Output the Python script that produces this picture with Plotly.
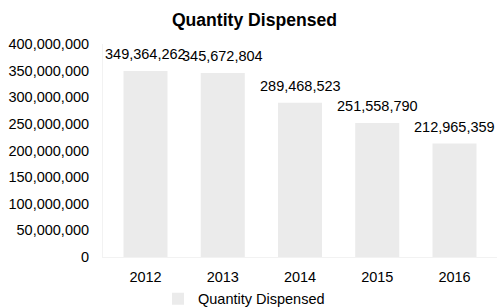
import plotly.graph_objects as go

years = ["2012", "2013", "2014", "2015", "2016"]
quantity = [349364262, 345672804, 289468523, 251558790, 212965359]
series_name = "Quantity Dispensed"
title_text = "Quantity Dispensed"

BAR_COLOR = "#ebebeb"
FONT = "Liberation Sans, Arial, sans-serif"
FS = 14.5

fig = go.Figure()
fig.add_trace(go.Bar(
    x=years, y=quantity, name=series_name,
    marker=dict(color=BAR_COLOR, line=dict(width=0)),
))

# category axis: annotation x uses the category serial number
for i, v in enumerate(quantity):
    fig.add_annotation(
        x=i, y=v, text=f"{v:,}", showarrow=False,
        yanchor="bottom", yshift=7,
        font=dict(family=FONT, size=FS, color="#000000"),
    )

fig.update_layout(
    width=499, height=307,
    margin=dict(l=103, r=2, t=44, b=50, autoexpand=False),
    paper_bgcolor="white", plot_bgcolor="white",
    bargap=0.43,
    font=dict(family=FONT, size=FS, color="#000000"),
    title=dict(
        text=f"<b>{title_text}</b>", x=0.51, xref="container", xanchor="center",
        y=0.935, yref="container", yanchor="middle",
        font=dict(family=FONT, size=17.6, color="#000000"),
    ),
    showlegend=True,
    legend=dict(
        orientation="h", xref="container", x=0.489, xanchor="center",
        yref="container", y=0.027, yanchor="middle",
        font=dict(family=FONT, size=FS, color="#000000"),
        itemwidth=30,
    ),
    xaxis=dict(
        type="category", automargin=False,
        showgrid=False, showline=True, linecolor="#f2f2f2", linewidth=1,
        ticks="", tickfont=dict(family=FONT, size=FS, color="#000000"),
        ticklabelstandoff=7,
    ),
    yaxis=dict(
        range=[0, 400000000], dtick=50000000, tickformat=",", automargin=False,
        showgrid=False, showline=True, linecolor="#f2f2f2", linewidth=1,
        zeroline=False, ticks="",
        tickfont=dict(family=FONT, size=FS, color="#000000"),
        ticklabelstandoff=10,
    ),
)

fig.write_html(
    "out.html",
    config={"displayModeBar": False},
    post_script="document.body.style.margin='0';",
)
